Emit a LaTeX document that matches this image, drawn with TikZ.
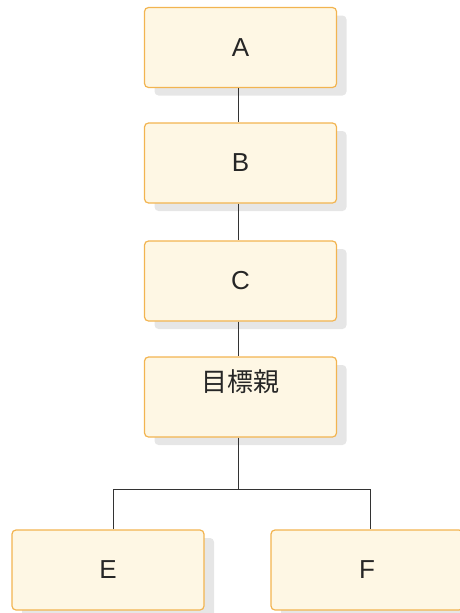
\documentclass[tikz,border=0pt]{standalone}
\usepackage{fontspec}
\setmainfont{Liberation Sans}
\newfontfamily\cjk{Noto Sans CJK JP}
\usetikzlibrary{shadows}
\definecolor{cFill}{RGB}{254,247,228}
\definecolor{cEdge}{RGB}{242,180,80}
\definecolor{cShd} {RGB}{230,230,230}
\definecolor{cLine}{RGB}{51,51,51}
\tikzset{
  %% cream box with flat grey shadow
  box/.style={rectangle, rounded corners=4pt, draw=cEdge, fill=cFill,
              line width=1.2pt, minimum width=192pt, minimum height=80pt,
              font=\fontsize{26}{30}\selectfont, text=black!85,
              general shadow={fill=cShd, shadow xshift=10pt, shadow yshift=-8pt}},
  %% connector
  link/.style={draw=cLine, line width=1pt},
}
\begin{document}
\begin{tikzpicture}[x=1pt, y=-1pt]
\useasboundingbox (0,0) rectangle (459,613);

%% chain of boxes
\node[box] (a)   at (240.5, 47.5)  {A};
\node[box] (b)   at (240.5, 163)   {B};
\node[box] (c)   at (240.5, 281)   {C};
\node[box, inner sep=7pt, text height=27pt, text depth=39pt]
           (tgt) at (240.5, 397)   {\cjk 目標親};

%% children
\node[box] (e)   at (108, 570)     {E};
\node[box] (f)   at (367, 570)     {F};

%% connectors (trunk sits a little left of the box centres)
\draw[link] ([xshift=-2.5pt]a.south) -- ([xshift=-2.5pt]b.north);
\draw[link] ([xshift=-2.5pt]b.south) -- ([xshift=-2.5pt]c.north);
\draw[link] ([xshift=-2.5pt]c.south) -- ([xshift=-2.5pt]tgt.north);
\draw[link] ([xshift=-2.5pt]tgt.south) -- ++(0,52) coordinate (j);
\draw[link] ([xshift=5pt]e.north) |- (j) -| ([xshift=3pt]f.north);

\end{tikzpicture}
\end{document}
